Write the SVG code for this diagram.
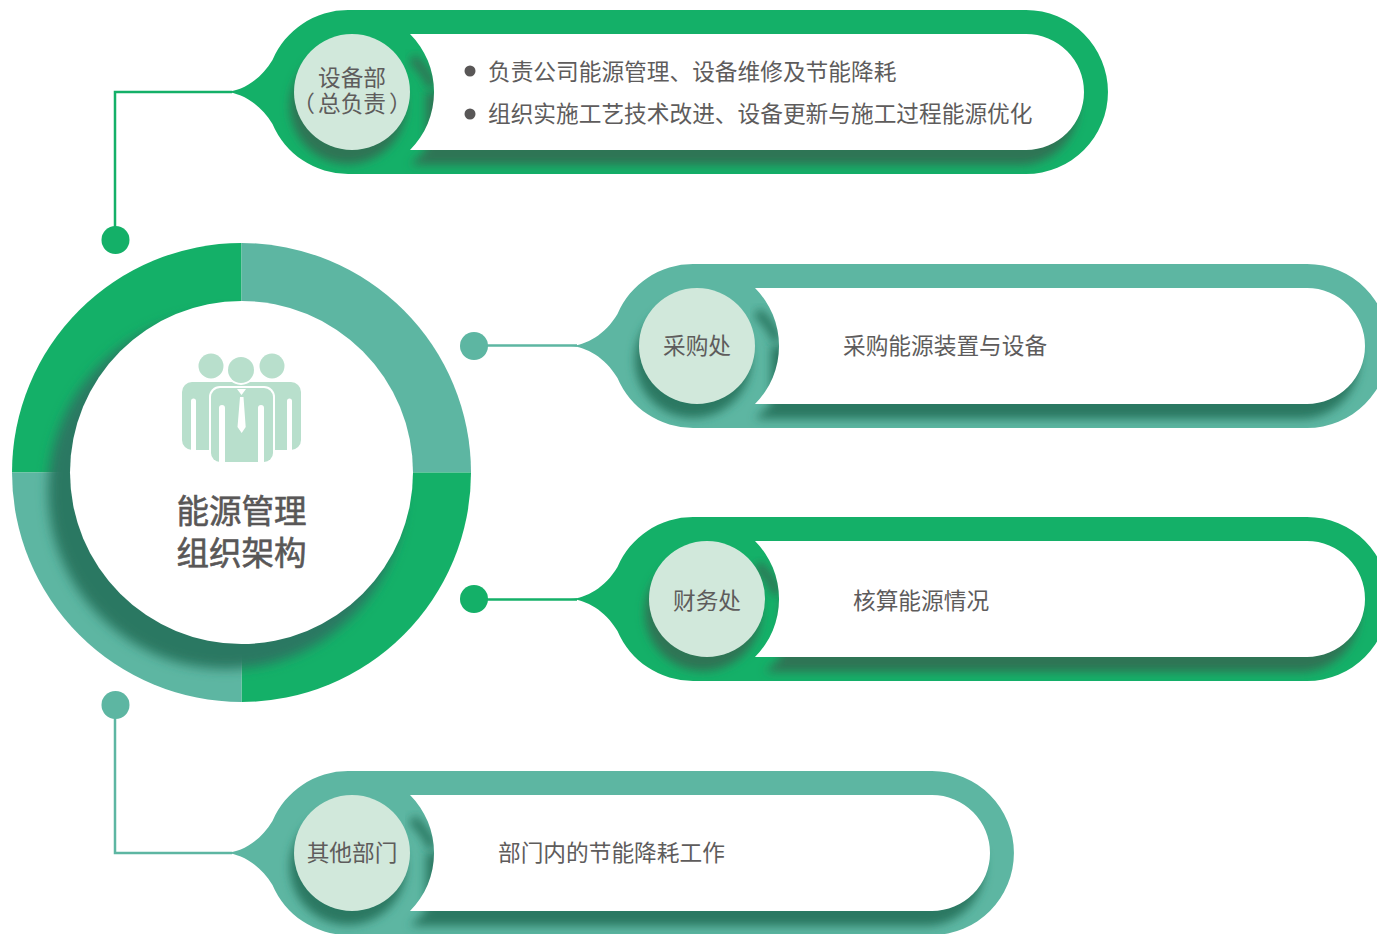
<svg xmlns="http://www.w3.org/2000/svg" width="1377" height="934" viewBox="0 0 1377 934">
<style>
text{font-family:"Noto Sans CJK SC","Noto Sans",sans-serif;fill:#5E5C5C;font-size:22.7px}
.m{text-anchor:middle}
.t{font-size:32.5px;text-anchor:middle;fill:#595757;stroke:#595757;stroke-width:.6px}
.g{fill:#14B068}.e{fill:#5DB6A2}
.sg{fill:#2F7454}.se{fill:#2A7862}
.w{fill:#fff}.n{fill:#D1E8DB}
.lg{fill:none;stroke:#14B068;stroke-width:2.500}
.le{fill:none;stroke:#5DB6A2;stroke-width:2.500}
.i{fill:#B8DFCC}
</style>
<defs>
<filter id="b" x="-30%" y="-30%" width="160%" height="160%"><feGaussianBlur stdDeviation="5"/></filter>
<filter id="b2" x="-30%" y="-30%" width="160%" height="160%"><feGaussianBlur stdDeviation="6"/></filter>
<path id="o1" d="M226 92C241 91 260 81 272.500 60A82 82 0 0 1 348 10H1026A82 82 0 0 1 1026 174H348A82 82 0 0 1 272.500 124C260 103 241 93 226 92Z"/>
<path id="o2" d="M571 346C586 345 605 335 617.500 314A82 82 0 0 1 693 264H1307A82 82 0 0 1 1307 428H693A82 82 0 0 1 617.500 378C605 357 586 347 571 346Z"/>
<path id="o3" d="M571 599C586 598 605 588 617.500 567A82 82 0 0 1 693 517H1307A82 82 0 0 1 1307 681H693A82 82 0 0 1 617.500 631C605 610 586 600 571 599Z"/>
<path id="o4" d="M226 853C241 852 260 842 272.500 821A82 82 0 0 1 348 771H932A82 82 0 0 1 932 935H348A82 82 0 0 1 272.500 885C260 864 241 854 226 853Z"/>
<clipPath id="c1"><use href="#o1"/></clipPath>
<clipPath id="c2"><use href="#o2"/></clipPath>
<clipPath id="c3"><use href="#o3"/></clipPath>
<clipPath id="c4"><use href="#o4"/></clipPath>
<clipPath id="cr"><circle cx="241.500" cy="472.500" r="229.500"/></clipPath>
</defs>

<g id="connectors">
<path class="lg" d="M115 240V92H232"/>
<path class="le" d="M474 345.500H577"/>
<path class="lg" d="M474 599.500H577"/>
<path class="le" d="M115 705V853H232"/>
<circle class="g" cx="115.500" cy="240" r="14"/>
<circle class="e" cx="474" cy="346" r="14"/>
<circle class="g" cx="474" cy="599" r="14"/>
<circle class="e" cx="115.500" cy="705" r="14"/>
</g>

<g id="center">
<path class="g" d="M241.500 472.500V243A229.500 229.500 0 0 0 12 472.500Z"/>
<path class="e" d="M241.500 472.500V243A229.500 229.500 0 0 1 471 472.500Z"/>
<path class="g" d="M241.500 472.500H471A229.500 229.500 0 0 1 241.500 702Z"/>
<path class="e" d="M241.500 472.500V702A229.500 229.500 0 0 1 12 472.500Z"/>
<g clip-path="url(#cr)"><circle class="se" cx="226" cy="491" r="178" filter="url(#b2)"/></g>
<circle class="w" cx="241.500" cy="472.500" r="171.500"/>
<g id="icon">
<circle class="i" cx="211" cy="366" r="12.500"/>
<circle class="i" cx="272" cy="366" r="12.500"/>
<rect class="i" x="182" y="382" width="119" height="68" rx="10"/>
<path class="w" d="M191 450V401a2.500 2.500 0 0 1 5 0V450ZM287 450V401a2.500 2.500 0 0 1 5 0V450Z"/>
<rect class="w" x="209" y="386" width="66" height="78" rx="11"/>
<circle class="w" cx="241" cy="370" r="15"/>
<circle class="i" cx="241" cy="370" r="13"/>
<rect class="i" x="211" y="388" width="62" height="74" rx="9"/>
<path class="w" d="M219 462V408a3 3 0 0 1 6 0V462ZM258 462V408a3 3 0 0 1 6 0V462Z"/>
<path class="w" d="M237 389H246L241.500 395ZM240 397H243.500L245.700 427L241.700 433L237.500 427Z"/>
</g>
<text class="t" x="241.500" y="523">能源管理</text>
<text class="t" x="241.500" y="565">组织架构</text>
</g>

<g id="pill1">
<use href="#o1" class="g"/>
<g clip-path="url(#c1)" class="sg">
<circle cx="348" cy="106" r="58" filter="url(#b)"/>
<path d="M426 92V150L410 165H1020A58 58 0 0 0 1078 107V92Z" filter="url(#b)"/>
<path d="M412 58A82 82 0 0 1 433 87" fill="none" stroke="#2F7454" stroke-width="10" filter="url(#b)"/>
</g>
<path class="w" d="M410 34H1026A58 58 0 0 1 1026 150H410A82 82 0 0 0 410 34Z"/>
<circle class="n" cx="352" cy="92" r="58"/>
<text class="m" x="352" y="86">设备部</text>
<text class="m" x="352" y="112" dx="0 3 0 0 3">（总负责）</text>
<circle fill="#595757" cx="470" cy="71" r="5.500"/>
<text x="488" y="80">负责公司能源管理、设备维修及节能降耗</text>
<circle fill="#595757" cx="470" cy="114" r="5.500"/>
<text x="488" y="122">组织实施工艺技术改进、设备更新与施工过程能源优化</text>
</g>

<g id="pill2">
<use href="#o2" class="e"/>
<g clip-path="url(#c2)" class="se">
<circle cx="693" cy="360" r="58" filter="url(#b)"/>
<path d="M771 346V404L755 419H1301A58 58 0 0 0 1359 361V346Z" filter="url(#b)"/>
<path d="M757 312A82 82 0 0 1 778 341" fill="none" stroke="#2A7862" stroke-width="10" filter="url(#b)"/>
</g>
<path class="w" d="M755 288H1307A58 58 0 0 1 1307 404H755A82 82 0 0 0 755 288Z"/>
<circle class="n" cx="697" cy="346" r="58"/>
<text class="m" x="697" y="354">采购处</text>
<text x="843" y="354">采购能源装置与设备</text>
</g>

<g id="pill3">
<use href="#o3" class="g"/>
<g clip-path="url(#c3)" class="sg">
<circle cx="703" cy="613" r="58" filter="url(#b)"/>
<path d="M781 599V657L765 672H1301A58 58 0 0 0 1359 614V599Z" filter="url(#b)"/>
<path d="M757 565A82 82 0 0 1 778 594" fill="none" stroke="#2F7454" stroke-width="10" filter="url(#b)"/>
</g>
<path class="w" d="M755 541H1307A58 58 0 0 1 1307 657H755A82 82 0 0 0 755 541Z"/>
<circle class="n" cx="707" cy="599" r="58"/>
<text class="m" x="707" y="609">财务处</text>
<text x="853" y="609">核算能源情况</text>
</g>

<g id="pill4">
<use href="#o4" class="e"/>
<g clip-path="url(#c4)" class="se">
<circle cx="348" cy="867" r="58" filter="url(#b)"/>
<path d="M426 853V911L410 926H926A58 58 0 0 0 984 868V853Z" filter="url(#b)"/>
<path d="M412 819A82 82 0 0 1 433 848" fill="none" stroke="#2A7862" stroke-width="10" filter="url(#b)"/>
</g>
<path class="w" d="M410 795H932A58 58 0 0 1 932 911H410A82 82 0 0 0 410 795Z"/>
<circle class="n" cx="352" cy="853" r="58"/>
<text class="m" x="352" y="861">其他部门</text>
<text x="498" y="861">部门内的节能降耗工作</text>
</g>
</svg>
